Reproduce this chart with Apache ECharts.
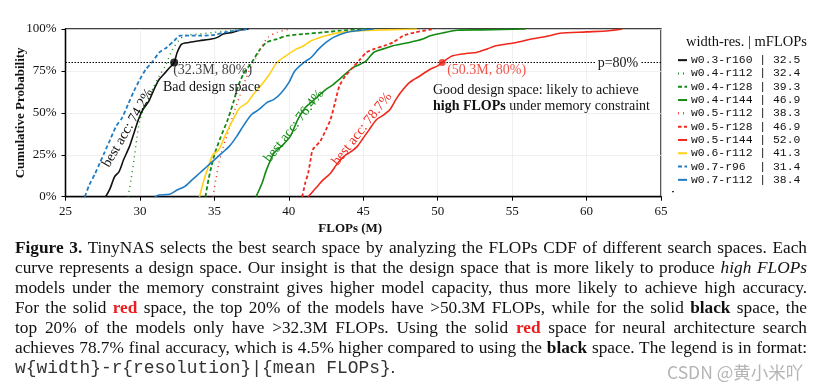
<!DOCTYPE html>
<html><head><meta charset="utf-8">
<script src="https://cdn.jsdelivr.net/npm/echarts@6/dist/echarts.min.js"></script>
<style>
html,body{margin:0;padding:0;background:#fff;}
#chart{position:absolute;left:0;top:0;width:819px;height:391px;}
#cap{position:absolute;left:15px;top:238px;width:792px;font-family:"Liberation Serif","Times New Roman",serif;font-size:17.3px;line-height:19.95px;color:#111;}
#cap div{text-align:justify;text-align-last:justify;white-space:normal;}
#cap div.last{text-align-last:left;}
#cap .red{color:#ee1c1c;font-weight:bold;}
#cap code{font-family:"Liberation Mono","DejaVu Sans Mono",monospace;font-size:17.9px;color:#333;}
#wm{position:absolute;left:667px;top:359px;font-family:"Noto Sans CJK SC","Noto Sans",sans-serif;font-size:17.5px;color:#b5b5b5;}
</style></head>
<body>
<div id="chart"></div>
<div id="cap">
<div><b>Figure 3.</b> TinyNAS selects the best search space by analyzing the FLOPs CDF of different search spaces. Each</div>
<div>curve represents a design space. Our insight is that the design space that is more likely to produce <i>high FLOPs</i></div>
<div>models under the memory constraint gives higher model capacity, thus more likely to achieve high accuracy.</div>
<div>For the solid <span class="red">red</span> space, the top 20% of the models have &gt;50.3M FLOPs, while for the solid <b>black</b> space, the</div>
<div>top 20% of the models only have &gt;32.3M FLOPs. Using the solid <span class="red">red</span> space for neural architecture search</div>
<div>achieves 78.7% final accuracy, which is 4.5% higher compared to using the <b>black</b> space. The legend is in format:</div>
<div class="last"><code>w{width}-r{resolution}|{mean FLOPs}</code>.</div>
</div>
<div id="wm">CSDN @黄小米吖</div>
<script>
// ---- data (x = FLOPs in M, y = cumulative probability in %) ----
const xTicks = [25, 30, 35, 40, 45, 50, 55, 60, 65];
const yTicks = [0, 25, 50, 75, 100];
const spaceNames = ['w0.3-r160','w0.4-r112','w0.4-r128','w0.4-r144','w0.5-r112','w0.5-r128','w0.5-r144','w0.6-r112','w0.7-r96','w0.7-r112'];
const meanFlops = [32.5, 32.4, 39.3, 46.9, 38.3, 46.9, 52.0, 41.3, 31.4, 38.4];

const w03_r160 = [[27.7,0],[28.0,5],[28.3,12],[28.6,15],[28.9,22],[29.3,30],[29.6,38],[29.9,46],[30.2,52],[30.6,57],[31.0,65],[31.3,70],[31.7,74],[32.0,77],[32.3,80],[32.5,86],[32.8,91],[33.3,92],[34.0,93],[34.8,94],[35.2,95],[35.6,97],[36.2,98],[36.8,99.5],[37.3,100]];
const w04_r112 = [[29.2,0],[29.4,10],[29.6,22],[29.8,35],[30.0,46],[30.4,55],[30.9,65],[31.3,72],[31.7,78],[32.2,88],[32.6,93],[33.0,96],[34.0,97],[35.0,98],[36.0,99],[37.0,100]];
const w04_r128 = [[34.4,0],[34.6,10],[34.8,18],[35.0,25],[35.4,35],[35.9,46],[36.3,57],[36.6,66],[37.0,74],[37.5,80],[38.0,87],[38.5,92],[39.2,94],[39.9,96],[41.0,97],[42.3,98],[43.5,99],[45.2,100]];
const w04_r144 = [[37.8,0],[38.2,8],[38.5,16],[39.0,26],[39.5,30],[40.1,36],[40.6,46],[41.1,53],[41.6,57],[42.1,61],[42.5,64],[43.0,67],[43.4,70],[43.9,74],[44.3,77],[44.8,79],[45.2,81],[45.7,86],[46.3,88],[47.0,90],[48.1,92],[49.0,94],[49.5,96],[50.5,98],[51.3,99.3],[53.0,99.5],[55.9,100]];
const w05_r112 = [[34.9,0],[35.1,10],[35.3,20],[35.5,27],[35.9,38],[36.3,50],[36.7,60],[37.1,70],[37.5,78],[37.8,83],[38.2,90],[38.6,95],[39.2,98],[40.1,100]];
const w05_r128 = [[40.9,0],[41.1,8],[41.3,14],[41.5,24],[41.6,28],[42.1,33],[42.5,40],[42.8,46],[43.1,56],[43.4,66],[43.8,72],[44.3,77],[44.8,82],[45.2,86],[45.7,88],[46.4,90],[47.0,92],[47.7,96],[48.5,98],[49.7,100]];
const w05_r144 = [[41.3,0],[41.8,5],[42.3,10],[42.8,14],[43.2,19],[43.7,24],[44.2,27],[44.6,30],[45.0,35],[45.4,40],[45.9,46],[46.4,49],[46.8,52],[47.2,58],[47.5,62],[48.1,68],[48.8,72],[49.5,76],[50.0,78],[50.3,80],[51.0,84],[52.0,85.5],[52.6,86],[53.3,88],[53.9,90],[55.3,92],[56.3,94],[57.5,96],[58.2,97.5],[60.0,98.3],[61.5,99],[62.4,100]];
const w06_r112 = [[34.0,0],[34.3,10],[34.6,18],[34.9,25],[35.3,28],[35.7,36],[36.2,45],[36.7,53],[37.2,56],[37.7,62],[38.2,67],[38.7,73],[39.2,80],[39.8,84],[40.5,88],[41.0,90],[41.5,93],[42.5,96],[43.5,98],[44.8,99],[46.5,99.5],[48.6,100]];
const w07_r96 = [[26.3,0],[26.6,7],[27.0,14],[27.3,20],[27.6,26],[28.0,34],[28.4,42],[28.8,47],[29.2,55],[29.6,63],[30.0,70],[30.4,76],[30.8,80],[31.3,86],[31.8,89],[32.3,93],[32.7,96],[34.0,96],[35.0,96.5],[35.7,98],[36.5,99],[37.3,100]];
const w07_r112 = [[31.0,0],[31.3,1],[32.0,1.5],[32.5,4],[33.0,6],[33.5,10],[34.0,14],[34.5,18],[35.0,22],[35.5,26],[36.0,30],[36.5,36],[37.0,43],[37.5,49],[38.0,52],[38.5,56],[39.0,58],[39.5,62],[40.0,68],[40.4,75],[41.0,80],[41.5,83],[42.0,88],[42.5,92],[43.0,95],[43.9,98],[44.6,99],[45.7,100]];

const pThreshold = 80;
const badPoint = [32.3, 80];
const goodPoint = [50.3, 80];
const bestAcc = ['74.2%', '76.4%', '78.7%'];

// ---- styles ----
const BLACK = '#111111', GREEN = '#138a13', RED = '#f0281c', GOLD = '#ffd11a', BLUE = '#1f7cc4';
const seriesData = [w03_r160, w04_r112, w04_r128, w04_r144, w05_r112, w05_r128, w05_r144, w06_r112, w07_r96, w07_r112];
const styles = [
  {color: BLACK, type: 'solid', width: 1.6},
  {color: GREEN, type: [1, 4], width: 1.4},
  {color: GREEN, type: [4, 2.5], width: 1.8},
  {color: GREEN, type: 'solid', width: 1.6},
  {color: RED, type: [1, 4], width: 1.4},
  {color: RED, type: [3.5, 2.5], width: 1.8},
  {color: RED, type: 'solid', width: 1.6},
  {color: GOLD, type: 'solid', width: 1.6},
  {color: BLUE, type: [4, 2.5], width: 1.8},
  {color: BLUE, type: 'solid', width: 1.6}
];

const serif = '"Liberation Serif","Times New Roman",serif';
const series = spaceNames.map((n, i) => ({
  name: n, type: 'line', data: seriesData[i], showSymbol: false, symbol: 'none',
  smooth: 0.25, lineStyle: styles[i], itemStyle: {color: styles[i].color},
  z: 3, silent: true, animation: false
}));

// threshold line + marker points
series.push({
  name: 'p80', type: 'line', data: [], silent: true, animation: false,
  markLine: {
    silent: true, symbol: 'none',
    lineStyle: {color: '#000', type: [1.5, 1.5], width: 1},
    label: {show: false},
    data: [{yAxis: pThreshold}]
  }
});
series.push({
  name: 'bad', type: 'scatter', data: [badPoint], symbolSize: 8, z: 5, animation: false,
  itemStyle: {color: '#000'},
  label: {show: true, position: [3, 5], align: 'left', verticalAlign: 'top', formatter: '(' + badPoint[0] + 'M, ' + badPoint[1] + '%)', fontFamily: serif, fontSize: 14, color: '#111'}
});
series.push({
  name: 'good', type: 'scatter', data: [goodPoint], symbolSize: 7, z: 5, animation: false,
  itemStyle: {color: RED},
  label: {show: true, position: [8.5, 4.5], align: 'left', verticalAlign: 'top', formatter: '(' + goodPoint[0] + 'M, ' + goodPoint[1] + '%)', fontFamily: serif, fontSize: 14, color: RED}
});

const chart = echarts.init(document.getElementById('chart'), null, {renderer: 'canvas'});
chart.setOption({
  animation: false,
  backgroundColor: '#fff',
  grid: {left: 65.5, right: 158, top: 29, bottom: 194.3, containLabel: false, outerBoundsMode: 'none', show: true, borderColor: '#000', borderWidth: 1.3, backgroundColor: 'transparent'},
  xAxis: {
    type: 'value', min: xTicks[0], max: xTicks[xTicks.length - 1], interval: 5,
    axisLine: {show: true, lineStyle: {color: '#000', width: 1.3}},
    axisTick: {show: true, length: 4, lineStyle: {color: '#000'}},
    axisLabel: {fontFamily: serif, fontSize: 13, color: '#111', margin: 8},
    splitLine: {show: true, lineStyle: {color: '#ececec', width: 0.8}},
    name: 'FLOPs (M)', nameLocation: 'middle', nameGap: 25,
    nameTextStyle: {fontFamily: serif, fontSize: 13, fontWeight: 'bold', color: '#111', padding: [0, 26, 0, 0]}
  },
  yAxis: {
    type: 'value', min: yTicks[0], max: yTicks[yTicks.length - 1], interval: 25,
    axisLine: {show: true, lineStyle: {color: '#000', width: 1.3}},
    axisTick: {show: true, length: 4, lineStyle: {color: '#000'}},
    axisLabel: {fontFamily: serif, fontSize: 13, color: '#111', margin: 9, formatter: '{value}%'},
    splitLine: {show: true, lineStyle: {color: '#ececec', width: 0.8}},
    name: 'Cumulative Probability', nameLocation: 'middle', nameGap: 38, nameMoveOverlap: false,
    nameTextStyle: {fontFamily: serif, fontSize: 13, fontWeight: 'bold', color: '#111'}
  },
  legend: {
    orient: 'vertical', left: 672, top: 48.5, itemWidth: 9, itemHeight: 8, itemGap: 0,
    selectedMode: false, data: spaceNames,
    itemStyle: {color: 'rgba(0,0,0,0)', borderColor: 'rgba(0,0,0,0)', borderWidth: 0, opacity: 0},
    formatter: n => n.padEnd(9, ' ') + ' | ' + meanFlops[spaceNames.indexOf(n)].toFixed(1),
    textStyle: {fontFamily: '"Liberation Mono","DejaVu Sans Mono",monospace', fontSize: 11.4, color: '#111', lineHeight: 13.3, padding: [0, 0, 0, -1]}
  },
  series: series,
  graphic: [
    {type: 'text', left: 686, top: 35, style: {text: 'width-res. | mFLOPs', font: '14.5px ' + serif, fill: '#111'}},
    {type: 'rect', shape: {x: 672, y: 191, width: 2, height: 1.2}, style: {fill: '#333'}},
    {type: 'text', x: 618, y: 63.3, style: {text: 'p=80%', font: '14px ' + serif, fill: '#111', align: 'center', verticalAlign: 'middle', backgroundColor: '#fff', padding: [0, 2]}, z: 10},
    {type: 'text', x: 163, y: 87.5, style: {text: 'Bad design space', font: '14px ' + serif, fill: '#111', verticalAlign: 'middle'}, z: 10},
    {type: 'text', x: 433, y: 90, style: {text: 'Good design space: likely to achieve', font: '14px ' + serif, fill: '#111', verticalAlign: 'middle'}, z: 10},
    {type: 'text', x: 433, y: 106.5, style: {text: '{b|high FLOPs} under memory constraint', font: '14px ' + serif, fill: '#111', verticalAlign: 'middle',
      rich: {b: {fontFamily: serif, fontSize: 14, fontWeight: 'bold', fill: '#111'}}}, z: 10},
    {type: 'text', x: 128, y: 128, rotation: 60 * Math.PI / 180, style: {text: 'best acc: ' + bestAcc[0], font: '14px ' + serif, fill: BLACK, align: 'center', verticalAlign: 'middle'}, z: 10},
    {type: 'text', x: 294, y: 126, rotation: 52 * Math.PI / 180, style: {text: 'best acc: ' + bestAcc[1], font: '14px ' + serif, fill: GREEN, align: 'center', verticalAlign: 'middle'}, z: 10},
    {type: 'text', x: 362, y: 129, rotation: 52 * Math.PI / 180, style: {text: 'best acc: ' + bestAcc[2], font: '14px ' + serif, fill: RED, align: 'center', verticalAlign: 'middle'}, z: 10}
  ]
});
</script>
</body></html>
